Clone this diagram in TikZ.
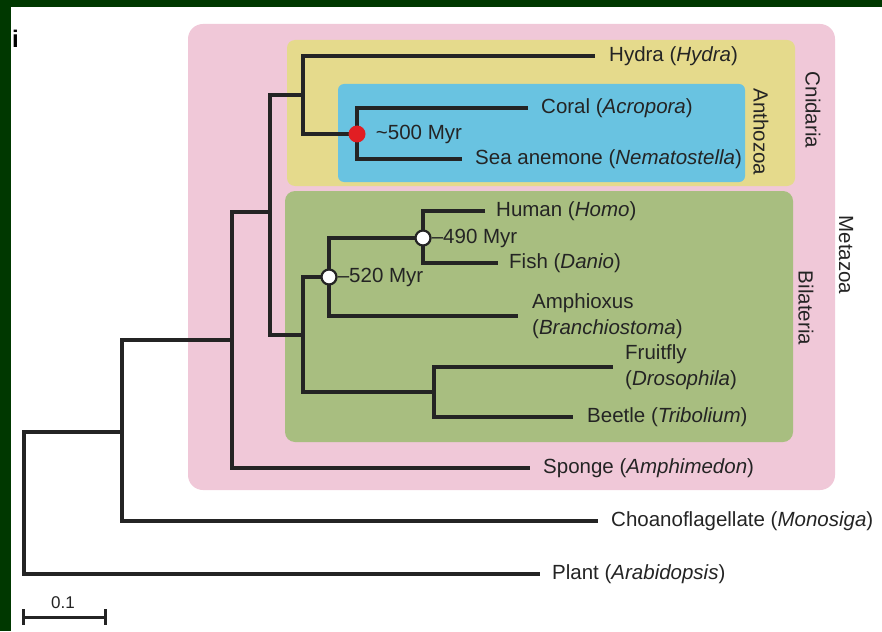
\documentclass[tikz,border=0pt]{standalone}
\usepackage{fontspec}
\setmainfont{Liberation Sans}
\usetikzlibrary{positioning}

\definecolor{framegreen}{RGB}{0,56,0}
\definecolor{metapink}{RGB}{240,200,216}
\definecolor{cnidyellow}{RGB}{229,218,140}
\definecolor{anthoblue}{RGB}{105,195,225}
\definecolor{bilagreen}{RGB}{168,190,128}
\definecolor{inkgray}{RGB}{36,36,36}
\definecolor{dotred}{RGB}{225,30,35}

\tikzset{
  branch/.style={line width=4.2pt, draw=inkgray},
  leaf/.style={inner sep=0pt, anchor=west, text=inkgray, align=left, font=\fontsize{20.5}{26}\selectfont},
  clade/.style={inner sep=0pt, text=inkgray, rotate=-90, font=\fontsize{20.5}{24}\selectfont},
  datered/.style={circle, fill=dotred, minimum size=17pt, inner sep=0pt},
  dateopen/.style={circle, draw=inkgray, fill=white, line width=2.2pt, minimum size=15pt, inner sep=0pt},
  datelabel/.style={inner sep=0pt, anchor=west, text=inkgray, font=\fontsize{20.5}{24}\selectfont}
}

\begin{document}
\begin{tikzpicture}[x=1pt,y=-1pt]
\useasboundingbox (0,0) rectangle (882,631);
\fill[white] (0,0) rectangle (882,631);
\fill[framegreen] (0,0) rectangle (882,7);
\fill[framegreen] (0,0) rectangle (11,631);
\node[anchor=north west, inner sep=0pt, font=\fontsize{24}{28}\selectfont\bfseries] (panel) at (12,30) {i};

% clade boxes
\fill[metapink, rounded corners=15pt] (188,24) rectangle (835,490);
\fill[cnidyellow, rounded corners=8pt] (287,40) rectangle (795,186);
\fill[anthoblue, rounded corners=6pt] (338,84) rectangle (745,182);
\fill[bilagreen, rounded corners=10pt] (285,191) rectangle (793,442);

% internal nodes
\coordinate (root) at (24,500);
\coordinate (holozoa) at (122,432);
\coordinate (metazoa) at (232,340);
\coordinate (eumeta) at (270,212);
\coordinate (cnid) at (303,95);
\coordinate (antho) at (357,134);
\coordinate (bilat) at (303,335);
\coordinate (deutero) at (329,277);
\coordinate (vert) at (423,238);
\coordinate (proto) at (434,392);

% tips
\coordinate (plant) at (540,574);
\coordinate (choano) at (598,521);
\coordinate (sponge) at (530,468);
\coordinate (hydra) at (595,56);
\coordinate (coral) at (528,108);
\coordinate (anemone) at (462,159);
\coordinate (human) at (485,211);
\coordinate (fish) at (498,263);
\coordinate (amphi) at (518,316);
\coordinate (fruitfly) at (613,367);
\coordinate (beetle) at (573,417);

% branches
\draw[branch] (holozoa) -| (root) |- (plant);
\draw[branch] (metazoa) -| (holozoa) |- (choano);
\draw[branch] (eumeta) -| (metazoa) |- (sponge);
\draw[branch] (cnid) -| (eumeta) |- (bilat);
\draw[branch] (hydra) -| (cnid) |- (antho);
\draw[branch] (coral) -| (antho) |- (anemone);
\draw[branch] (deutero) -| (bilat) |- (proto);
\draw[branch] (vert) -| (deutero) |- (amphi);
\draw[branch] (human) -| (vert) |- (fish);
\draw[branch] (fruitfly) -| (proto) |- (beetle);

% species
\node[leaf, right=12pt of plant] (lplant) {Plant (\textit{Arabidopsis})};
\node[leaf, right=13pt of choano] (lchoano) {Choanoflagellate (\textit{Monosiga})};
\node[leaf, right=13pt of sponge] (lsponge) {Sponge (\textit{Amphimedon})};
\node[leaf, right=14pt of hydra] (lhydra) {Hydra (\textit{Hydra})};
\node[leaf, right=13pt of coral] (lcoral) {Coral (\textit{Acropora})};
\node[leaf, right=13pt of anemone] (lanemone) {Sea anemone (\textit{Nematostella})};
\node[leaf, right=11pt of human] (lhuman) {Human (\textit{Homo})};
\node[leaf, right=11pt of fish] (lfish) {Fish (\textit{Danio})};
\node[leaf, right=14pt of amphi] (lamphi) {Amphioxus\\(\textit{Branchiostoma})};
\node[leaf, right=12pt of fruitfly] (lfruitfly) {Fruitfly\\(\textit{Drosophila})};
\node[leaf, right=14pt of beetle] (lbeetle) {Beetle (\textit{Tribolium})};

% divergence dates
\node[datered] (d500) at (antho) {};
\node[dateopen] (d520) at (deutero) {};
\node[dateopen] (d490) at (vert) {};
\node[datelabel, right=10pt of d500] (t500) {\textasciitilde500 Myr};
\node[datelabel, right=0pt of d520] (t520) {--520 Myr};
\node[datelabel, right=0pt of d490] (t490) {--490 Myr};

% clade names
\node[clade] (ncnid) at (813,110) {Cnidaria};
\node[clade] (nantho) at (761,132) {Anthozoa};
\node[clade] (nbilat) at (806,308) {Bilateria};
\node[clade] (nmeta) at (846,255) {Metazoa};

% scale bar
\coordinate (barL) at (22,617);
\coordinate (barR) at (107,617);
\draw[line width=3pt, draw=inkgray, |-|] (barL) -- (barR);
\node[inner sep=0pt, text=inkgray, font=\fontsize{17}{20}\selectfont] (nbar) at (63,603) {0.1};
\end{tikzpicture}
\end{document}
